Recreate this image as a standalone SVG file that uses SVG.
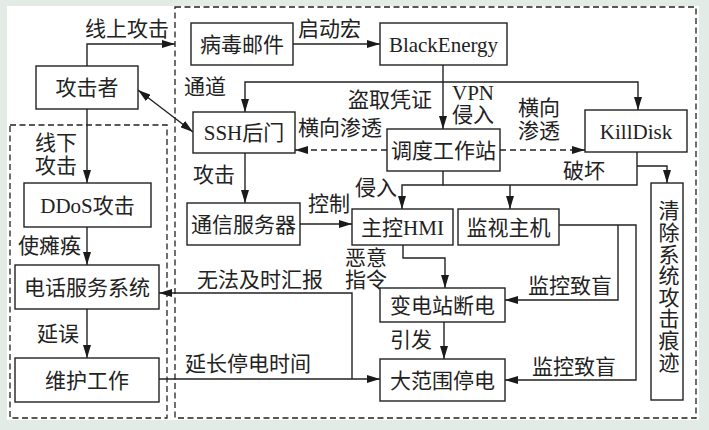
<svg xmlns="http://www.w3.org/2000/svg" width="709" height="430" viewBox="0 0 709 430">
<defs>
<marker id="ah" markerUnits="userSpaceOnUse" markerWidth="14" markerHeight="8" refX="13" refY="4" orient="auto-start-reverse">
<path d="M0,0 L13,4 L0,8 z" fill="#1a1a1a"/>
</marker>
<style>
.bx{fill:#fff;stroke:#222;stroke-width:1.4}
.dz{fill:none;stroke:#222;stroke-width:1.3;stroke-dasharray:6 3.5}
.ln{fill:none;stroke:#222;stroke-width:1.4}
.ar{marker-end:url(#ah)}
.ds{stroke-dasharray:6 4}
text{font-family:"Liberation Serif","Noto Sans CJK SC",serif;font-size:21px;fill:#222}
.c{text-anchor:middle}
.v{writing-mode:vertical-rl;letter-spacing:0.6px}
</style>
</defs>
<rect x="0" y="0" width="709" height="430" fill="#e3ebe6"/>
<rect x="7" y="6" width="692" height="414" fill="#fff"/>
<rect class="dz" x="10" y="125" width="157" height="293"/>
<rect class="dz" x="175" y="7" width="521" height="411"/>
<g id="connectors">
<path class="ln ar" d="M87,66 V44 H175"/>
<path class="ln ar" d="M293,44 H380"/>
<path class="ln ar" d="M443,65 V129"/>
<path class="ln ar" d="M443,82 H245 V112"/>
<path class="ln ar" d="M443,82 H638 V110"/>
<path class="ln ar" d="M138,90 L193,132" marker-start="url(#ah)"/>
<path class="ln ar ds" d="M387,150 H295"/>
<path class="ln ar ds" d="M500,150 H585"/>
<path class="ln ar" d="M443,171 V185 H402 V209"/>
<path class="ln" d="M637,152 V185 H443"/>
<path class="ln ar" d="M510,185 V209"/>
<path class="ln ar" d="M637,166 H667 V183"/>
<path class="ln ar" d="M245,153 V203"/>
<path class="ln ar" d="M300,224 H352"/>
<path class="ln ar" d="M403,245 V258 H445 V288"/>
<path class="ln ar" d="M444,322 V359"/>
<path class="ln ar" d="M559,225 H636 V380 H505"/>
<path class="ln ar" d="M618,225 V300 H505"/>
<path class="ln ar" d="M159,379 H380"/>
<path class="ln ar" d="M352,379 V293 H159"/>
<path class="ln ar" d="M87,109 V183"/>
<path class="ln ar" d="M87,227 V265"/>
<path class="ln ar" d="M87,309 V358"/>
</g>
<g id="labels">
<text x="85" y="35.5">线上攻击</text>
<text x="298" y="35.5">启动宏</text>
<text x="184" y="94">通道</text>
<text x="348" y="107">盗取凭证</text>
<text x="452" y="99.5">VPN</text>
<text x="452" y="122">侵入</text>
<text x="518" y="115">横向</text>
<text x="518" y="137.5">渗透</text>
<text x="298" y="135">横向渗透</text>
<text x="193" y="182">攻击</text>
<text x="308" y="211">控制</text>
<text x="355" y="195">侵入</text>
<text x="563" y="178">破坏</text>
<text x="345" y="264.5">恶意</text>
<text x="345" y="286.5">指令</text>
<text x="528" y="293">监控致盲</text>
<text x="532" y="374">监控致盲</text>
<text x="390" y="347">引发</text>
<text x="197" y="287">无法及时汇报</text>
<text x="185" y="371">延长停电时间</text>
<text x="35" y="150">线下</text>
<text x="35" y="172.5">攻击</text>
<text x="18" y="253">使瘫痪</text>
<text x="37" y="341">延误</text>
</g>
<g id="n-attacker"><rect class="bx" x="36" y="66" width="102" height="43"/><text class="c" x="87" y="95">攻击者</text></g>
<g id="n-virusmail"><rect class="bx" x="191" y="23" width="102" height="42"/><text class="c" x="242" y="51.5">病毒邮件</text></g>
<g id="n-blackenergy"><rect class="bx" x="380" y="23" width="127" height="42"/><text class="c" x="443.5" y="51.5">BlackEnergy</text></g>
<g id="n-ssh"><rect class="bx" x="193" y="112" width="102" height="41"/><text class="c" x="244" y="140">SSH后门</text></g>
<g id="n-dispatch"><rect class="bx" x="387" y="129" width="113" height="42"/><text class="c" x="443.5" y="157.5">调度工作站</text></g>
<g id="n-killdisk"><rect class="bx" x="585" y="110" width="102" height="42"/><text class="c" x="636" y="138.5">KillDisk</text></g>
<g id="n-clear"><rect class="bx" x="651" y="183" width="32" height="217"/>
<text class="v" x="667" y="200">清除系统攻击痕迹</text></g>
<g id="n-ddos"><rect class="bx" x="24" y="183" width="127" height="44"/><text class="c" x="87.5" y="212.5">DDoS攻击</text></g>
<g id="n-phone"><rect class="bx" x="15" y="265" width="144" height="44"/><text class="c" x="87" y="294.5">电话服务系统</text></g>
<g id="n-maint"><rect class="bx" x="15" y="358" width="144" height="44"/><text class="c" x="87" y="387.5">维护工作</text></g>
<g id="n-comm"><rect class="bx" x="187" y="203" width="113" height="42"/><text class="c" x="243.5" y="231.5">通信服务器</text></g>
<g id="n-hmi"><rect class="bx" x="352" y="209" width="101" height="36"/><text class="c" x="402.5" y="234.5">主控HMI</text></g>
<g id="n-monitor"><rect class="bx" x="458" y="209" width="101" height="36"/><text class="c" x="508.5" y="234.5">监视主机</text></g>
<g id="n-substation"><rect class="bx" x="380" y="288" width="125" height="34"/><text class="c" x="442.5" y="312.5">变电站断电</text></g>
<g id="n-blackout"><rect class="bx" x="380" y="359" width="125" height="42"/><text class="c" x="442.5" y="387.5">大范围停电</text></g>
</svg>
